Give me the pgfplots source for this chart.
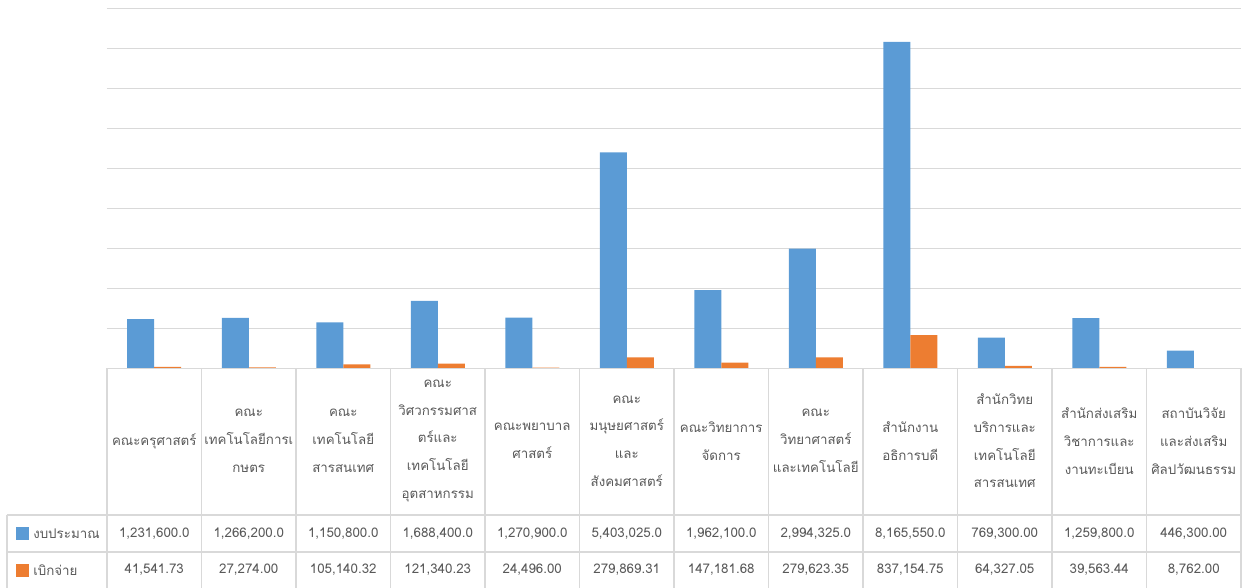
\documentclass[border=0pt]{standalone}
\usepackage{fontspec}
\setmainfont[Script=Thai]{Loma}
\usepackage{pgfplots}
\pgfplotsset{compat=1.18}
\definecolor{barblue}{HTML}{5B9BD5}
\definecolor{barorange}{HTML}{ED7D31}
\definecolor{gridgray}{HTML}{D9D9D9}
\definecolor{txtgray}{HTML}{595959}
\begin{document}
\begin{tikzpicture}
\begin{axis}[
  at={(0,0)}, anchor=south west,
  scale only axis, width=850.5pt, height=270pt,
  xmin=-0.5, xmax=11.5, ymin=0, ymax=9000000,
  ybar=0pt, bar width=20.25pt,
  axis line style={draw=none},
  ytick={0,1000000,2000000,3000000,4000000,5000000,6000000,7000000,8000000,9000000},
  yticklabels={}, xtick=\empty, scaled y ticks=false,
  major tick length=0pt,
  ymajorgrids, grid style={color=gridgray, line width=1pt},
  clip=false,
]
\addplot[fill=barblue, draw=none] coordinates {
(0,1231600) (1,1266200) (2,1150800) (3,1688400) (4,1270900) (5,5403025)
(6,1962100) (7,2994325) (8,8165550) (9,769300) (10,1259800) (11,446300)};
\addplot[fill=barorange, draw=none] coordinates {
(0,41541.73) (1,27274.00) (2,105140.32) (3,121340.23) (4,24496.00) (5,279869.31)
(6,147181.68) (7,279623.35) (8,837154.75) (9,64327.05) (10,39563.44) (11,8762.00)};
\end{axis}
\begin{scope}[shift={(-80.25pt,276.375pt)}, x=0.75pt, y=-0.75pt]
  \draw[gridgray, line width=1.2pt] (107,368.5) -- (1241,368.5);
  \draw[gridgray, line width=1.2pt] (7,515) -- (1241,515);
  \draw[gridgray, line width=1.2pt] (7,552) -- (1241,552);
  \draw[gridgray, line width=1.2pt] (7,515) -- (7,590);
  \foreach \i in {0,...,12} {
    \draw[gridgray, line width=1.2pt] ({107+\i*94.5},368.5) -- ({107+\i*94.5},590);
  }
  \fill[barblue] (16,527) rectangle (29,540);
  \fill[barorange] (16,564) rectangle (29,577);
  \tikzset{lbl/.style={text=txtgray, align=center, font=\fontsize{10}{20.8}\selectfont, inner sep=0pt},
           val/.style={text=txtgray, font=\fontsize{10}{12}\selectfont, inner sep=0pt}}
  \node[val, anchor=west] at (33,533.5) {งบประมาณ};
  \node[val, anchor=west] at (33,570) {เบิกจ่าย};
  \foreach \t [count=\i from 0] in {
    {คณะครุศาสตร์},
    {คณะ\\เทคโนโลยีการเ\\กษตร},
    {คณะ\\เทคโนโลยี\\สารสนเทศ},
    {คณะ\\วิศวกรรมศาส\\ตร์และ\\เทคโนโลยี\\อุตสาหกรรม},
    {คณะพยาบาล\\ศาสตร์},
    {คณะ\\มนุษยศาสตร์\\และ\\สังคมศาสตร์},
    {คณะวิทยาการ\\จัดการ},
    {คณะ\\วิทยาศาสตร์\\และเทคโนโลยี},
    {สำนักงาน\\อธิการบดี},
    {สำนักวิทย\\บริการและ\\เทคโนโลยี\\สารสนเทศ},
    {สำนักส่งเสริม\\วิชาการและ\\งานทะเบียน},
    {สถาบันวิจัย\\และส่งเสริม\\ศิลปวัฒนธรรม}} {
    \node[lbl] at ({107+(\i+0.5)*94.5},441) {\t};
  }
  \foreach \a/\b [count=\i from 0] in {
    {1,231,600.0}/{41,541.73}, {1,266,200.0}/{27,274.00}, {1,150,800.0}/{105,140.32},
    {1,688,400.0}/{121,340.23}, {1,270,900.0}/{24,496.00}, {5,403,025.0}/{279,869.31},
    {1,962,100.0}/{147,181.68}, {2,994,325.0}/{279,623.35}, {8,165,550.0}/{837,154.75},
    {769,300.00}/{64,327.05}, {1,259,800.0}/{39,563.44}, {446,300.00}/{8,762.00}} {
    \node[val] at ({107+(\i+0.5)*94.5},533.5) {\a};
    \node[val] at ({107+(\i+0.5)*94.5},570) {\b};
  }
  \pgfresetboundingbox
  \useasboundingbox (0,0) rectangle (1247,588);
\end{scope}
\end{tikzpicture}
\end{document}
